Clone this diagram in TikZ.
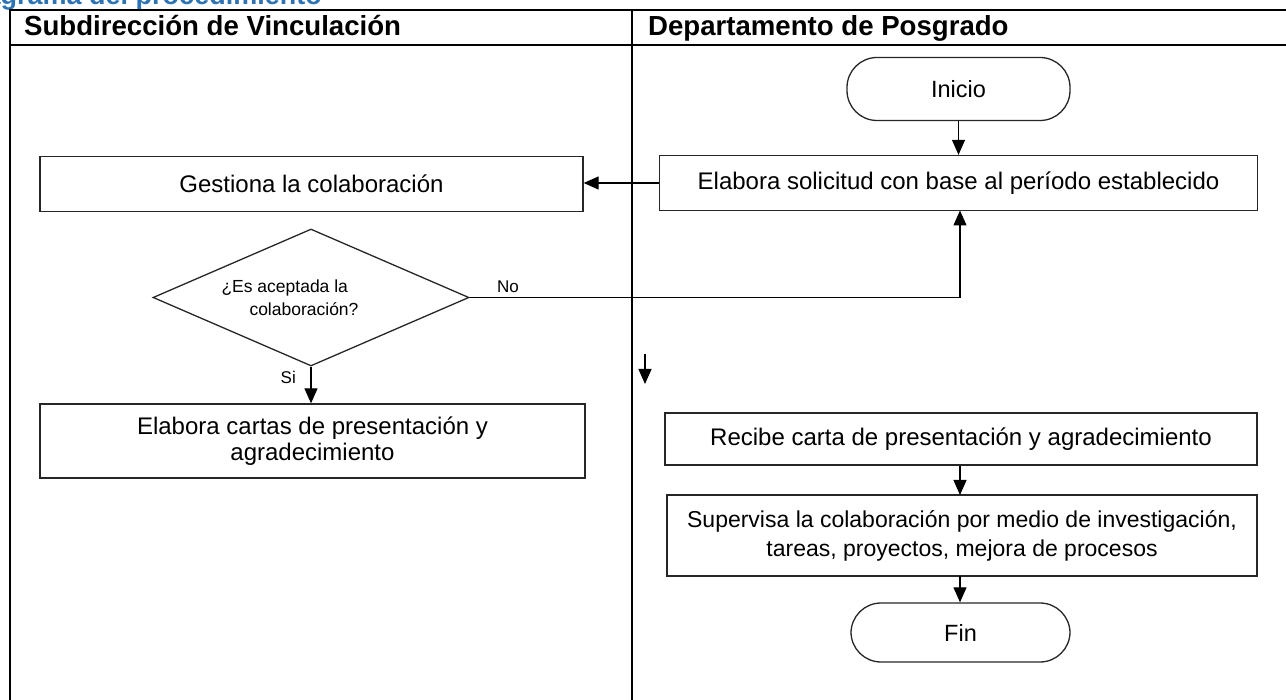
\documentclass[tikz,border=0pt]{standalone}
\usepackage{fontspec}
\setmainfont{Liberation Sans}
\usetikzlibrary{shapes.geometric,arrows.meta}
\definecolor{titleblue}{RGB}{46,116,181}
\tikzset{
  box/.style={draw=black!85, line width=1.3pt, rectangle, inner sep=2pt, align=center, font=\fontsize{24}{28}\selectfont},
  term/.style={draw=black!85, line width=1.3pt, rectangle, rounded corners=30pt, align=center, font=\fontsize{23.5}{27}\selectfont},
  decision/.style={draw=black!85, line width=1.3pt, diamond, aspect=2.3, inner sep=0pt},
  arr/.style={line width=1.2pt, -{Triangle[width=13pt,length=15pt]}},
  lane/.style={line width=2.2pt, black},
  hdr/.style={font=\bfseries\fontsize{27.6}{30}\selectfont, anchor=base west, inner sep=0pt},
  lbl/.style={font=\fontsize{17}{19}\selectfont, inner sep=0pt}
}
\begin{document}
\begin{tikzpicture}[x=1pt,y=-1pt]
\useasboundingbox (0,0) rectangle (1286,700);
\clip (0,0) rectangle (1286,700);
% cut-off title
\node[font=\bfseries\fontsize{27}{30}\selectfont, text=titleblue, anchor=base east, inner sep=0pt] (title) at (322,5) {Diagrama del procedimiento};
% frame
\draw[lane] (10,10) rectangle (1300,720);
\draw[lane] (10,45) -- (1300,45);
\draw[lane] (632,10) -- (632,720);
\node[hdr] (h1) at (24,36) {Subdirección de Vinculación};
\node[hdr] (h2) at (648,36) {Departamento de Posgrado};
% nodes
\node[term, minimum width=223pt, minimum height=63pt] (inicio) at (958.5,89) {Inicio};
\node[box, minimum width=598pt, minimum height=55pt] (sol) at (958.5,183) {Elabora solicitud con base al período establecido};
\node[box, minimum width=543pt, minimum height=55pt] (gest) at (311.5,184) {Gestiona la colaboración};
\node[decision, minimum width=316pt, minimum height=137pt] (dec) at (311,297.5) {};
\node[align=left, inner sep=0pt, font=\fontsize{17.5}{23}\selectfont] (dectext) at (290,298) {¿Es aceptada la\\\hspace*{28pt}colaboración?};
\node[box, minimum width=545pt, minimum height=74pt, font=\fontsize{24}{26}\selectfont] (cartas) at (312.5,441) {Elabora cartas de presentación y\\ agradecimiento};
\node[box, minimum width=592pt, minimum height=52pt] (recibe) at (961,439) {Recibe carta de presentación y agradecimiento};
\node[box, minimum width=590pt, minimum height=81pt, font=\fontsize{23}{29}\selectfont] (sup) at (962,535.5) {Supervisa la colaboración por medio de investigación,\\ tareas, proyectos, mejora de procesos};
\node[term, minimum width=219pt, minimum height=59pt] (fin) at (960.5,632.5) {Fin};
\coordinate (o1) at (645,354);
\coordinate (o2) at (645,384);
% connectors
\draw[arr] (inicio.south) -- (inicio.south |- sol.north);
\draw[arr] (sol.west) -- (gest.east |- sol.west);
\draw[arr] (dec.east) -- (960,297.5) -- (960,210.5);
\draw[arr] (dec.south) -- (dec.south |- cartas.north);
\draw[arr] (o1) -- (o2);
\draw[arr] (recibe.south -| 960,0) -- (960,495);
\draw[arr] (960,576) -- (fin.north -| 960,0);
\node[lbl, anchor=base west] (no) at (497,293) {No};
\node[lbl, anchor=base east] (si) at (296,384) {Si};
\end{tikzpicture}
\end{document}
